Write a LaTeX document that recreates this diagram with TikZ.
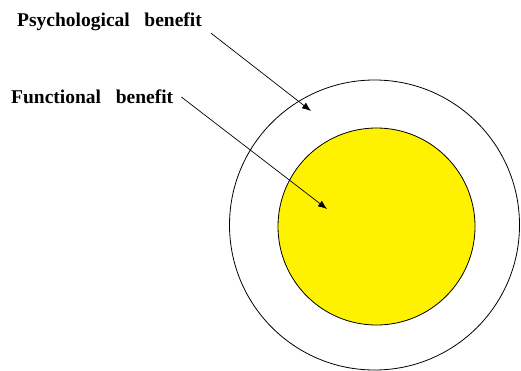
\documentclass[tikz,border=0pt]{standalone}
\usepackage{fontspec}
\setmainfont{Liberation Serif}
\usepackage{tikz}
\usetikzlibrary{arrows.meta, positioning, calc}

\begin{document}
\begin{tikzpicture}[
        x=1pt, y=1pt,
        ring/.style={circle, draw, line width=0.8pt, inner sep=0pt},
        label/.style={font=\fontsize{19.5}{21}\selectfont\bfseries, anchor=west, inner sep=2pt},
        arrow/.style={-{Latex[length=9pt, width=7pt]}, line width=0.7pt}
    ]
    \useasboundingbox (0,0) rectangle (521,-370);

    % Circles
    \node (outer) [ring, minimum size=290pt] at (374.5,-225) {};
    \node (inner) [ring, fill=yellow, minimum size=197pt] at (376.5,-226.5) {};

    % Labels
    \node (psych) [label] at (15,-22) {Psychological\ \ \ benefit};
    \node (func) [label] at (9,-97) {Functional\ \ \ benefit};

    \coordinate (psytip) at (311,-111);
    \coordinate (functip) at (327,-209);

    % Arrows
    \draw [arrow] ([xshift=7pt]psych.south east) -- (psytip);
    \draw [arrow] ([xshift=6pt]func.east) -- (functip);

\end{tikzpicture}
\end{document}
